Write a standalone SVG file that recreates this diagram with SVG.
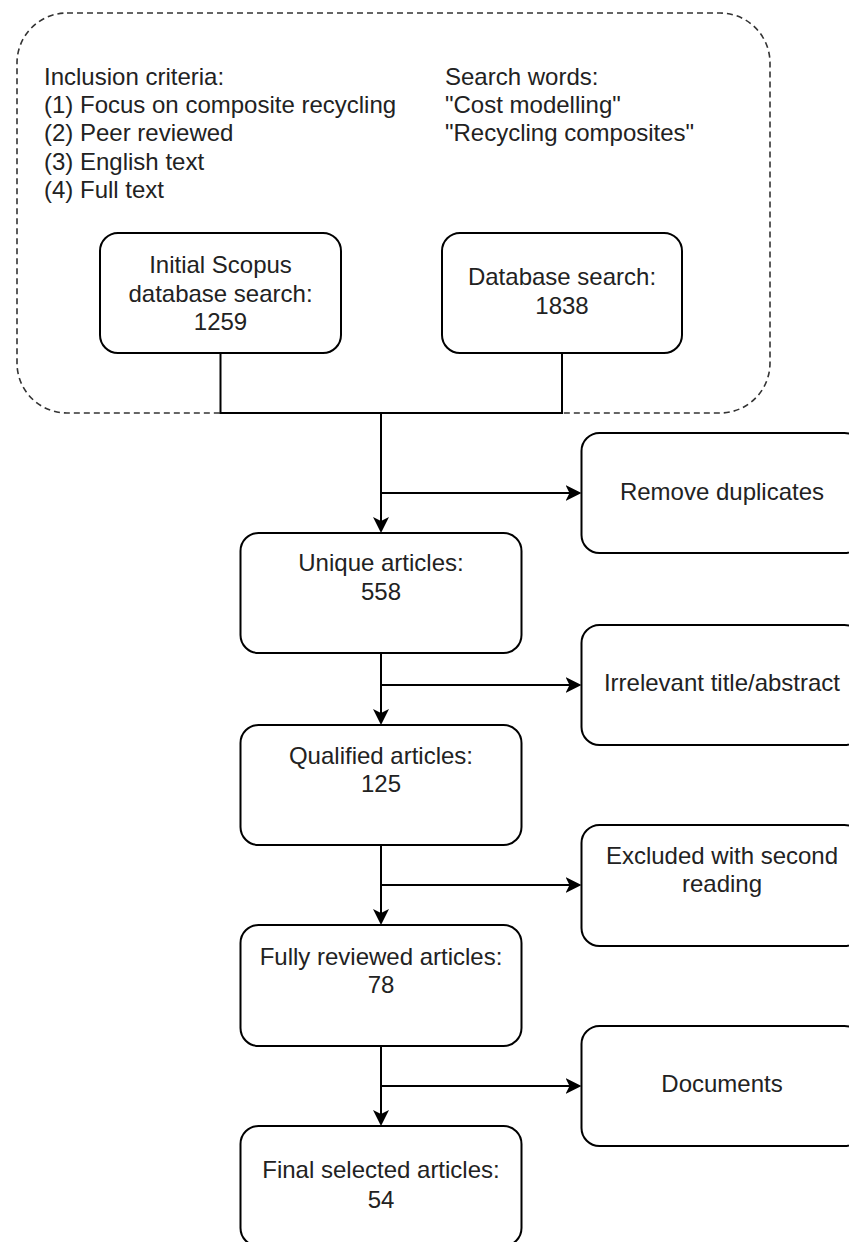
<svg xmlns="http://www.w3.org/2000/svg" width="849" height="1242" viewBox="0 0 849 1242">
<style>
.box{fill:#fff;stroke:#000;stroke-width:2}
.grp{fill:none;stroke:#333;stroke-width:1.6;stroke-dasharray:6 4}
.t{font-family:"Liberation Sans",Arial,sans-serif;font-size:24px;fill:#222}
.c{text-anchor:middle}
.ln{fill:none;stroke:#000;stroke-width:2}
</style>
<defs>
<marker id="arr" markerUnits="userSpaceOnUse" markerWidth="18" markerHeight="18" refX="8" refY="8" orient="auto">
<path d="M0,0 L16,8 L0,16 L4,8 Z" fill="#000"/>
</marker>
</defs>
<rect width="849" height="1242" fill="#fff"/>
<g id="search-group">
<rect class="grp" x="17" y="13" width="753" height="400" rx="50" ry="50"/>
<text class="t" x="44" y="85">Inclusion criteria:</text>
<text class="t" x="44" y="113.2">(1) Focus on composite recycling</text>
<text class="t" x="44" y="141.4">(2) Peer reviewed</text>
<text class="t" x="44" y="169.6">(3) English text</text>
<text class="t" x="44" y="197.8">(4) Full text</text>
<text class="t" x="445" y="85">Search words:</text>
<text class="t" x="445" y="113.2">"Cost modelling"</text>
<text class="t" x="445" y="141.4">"Recycling composites"</text>
</g>
<g id="connectors">
<path class="ln" d="M220.5,353 V413 H562 V353"/>
<path class="ln" d="M381,413 V525" marker-end="url(#arr)"/>
<path class="ln" d="M381,493 H573.5" marker-end="url(#arr)"/>
<path class="ln" d="M381,653 V717" marker-end="url(#arr)"/>
<path class="ln" d="M381,685 H573.5" marker-end="url(#arr)"/>
<path class="ln" d="M381,845 V917" marker-end="url(#arr)"/>
<path class="ln" d="M381,885 H573.5" marker-end="url(#arr)"/>
<path class="ln" d="M381,1046 V1118" marker-end="url(#arr)"/>
<path class="ln" d="M381,1086 H573.5" marker-end="url(#arr)"/>
</g>
<g id="initial-scopus">
<rect class="box" x="100" y="233" width="241" height="120" rx="18"/>
<text class="t c" x="220.5" y="273">Initial Scopus</text>
<text class="t c" x="220.5" y="301.5">database search:</text>
<text class="t c" x="220.5" y="330">1259</text>
</g>
<g id="database-search">
<rect class="box" x="442" y="233" width="240" height="120" rx="18"/>
<text class="t c" x="562" y="285">Database search:</text>
<text class="t c" x="562" y="314">1838</text>
</g>
<g id="unique">
<rect class="box" x="240.5" y="533" width="281" height="120" rx="18"/>
<text class="t c" x="381" y="571">Unique articles:</text>
<text class="t c" x="381" y="600">558</text>
</g>
<g id="remove-duplicates">
<rect class="box" x="581.5" y="433" width="281" height="120" rx="18"/>
<text class="t c" x="722" y="500">Remove duplicates</text>
</g>
<g id="qualified">
<rect class="box" x="240.5" y="725" width="281" height="120" rx="18"/>
<text class="t c" x="381" y="764">Qualified articles:</text>
<text class="t c" x="381" y="792">125</text>
</g>
<g id="irrelevant">
<rect class="box" x="581.5" y="625" width="281" height="120" rx="18"/>
<text class="t c" x="722" y="691">Irrelevant title/abstract</text>
</g>
<g id="fully-reviewed">
<rect class="box" x="240.5" y="925" width="281" height="121" rx="18"/>
<text class="t c" x="381" y="965">Fully reviewed articles:</text>
<text class="t c" x="381" y="993">78</text>
</g>
<g id="excluded">
<rect class="box" x="581.5" y="825" width="281" height="121" rx="18"/>
<text class="t c" x="722" y="864">Excluded with second</text>
<text class="t c" x="722" y="892">reading</text>
</g>
<g id="final">
<rect class="box" x="240.5" y="1126" width="281" height="120" rx="18"/>
<text class="t c" x="381" y="1178">Final selected articles:</text>
<text class="t c" x="381" y="1208">54</text>
</g>
<g id="documents">
<rect class="box" x="581.5" y="1026" width="281" height="120" rx="18"/>
<text class="t c" x="722" y="1092">Documents</text>
</g>
</svg>
